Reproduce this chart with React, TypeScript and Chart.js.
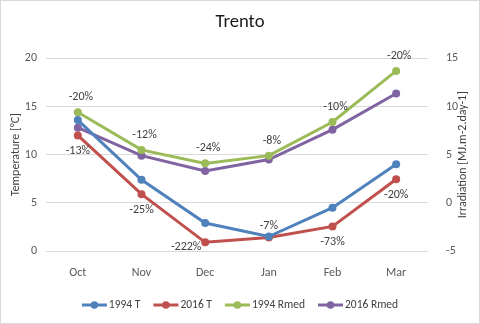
import React, { useEffect, useRef } from "react";
import { Chart, registerables } from "chart.js";

Chart.register(...registerables);

const months = ["Oct", "Nov", "Dec", "Jan", "Feb", "Mar"];
const temp1994 = [13.6, 7.4, 2.9, 1.5, 4.5, 9.0];
const temp2016 = [12.0, 5.9, 0.9, 1.4, 2.55, 7.45];
const rmed1994 = [9.4, 5.5, 4.1, 4.9, 8.4, 13.7];
const rmed2016 = [7.8, 4.9, 3.3, 4.5, 7.6, 11.35];
const rmedChange = ["-20%", "-12%", "-24%", "-8%", "-10%", "-20%"];
const tempChange = ["-13%", "-25%", "-222%", "-7%", "-73%", "-20%"];
const rightTitle = "Irradiation [MJ.m-2.day-1]";

const FONT = "Calibri, Carlito, Lato, sans-serif";
const COLORS = ["#4F81BD", "#C0504D", "#9BBB59", "#8064A2"];

const labelPlugin = {
  id: "pctLabels",
  afterDatasetsDraw(chart: any) {
    const ctx = chart.ctx;
    ctx.save();
    ctx.font = `12px ${FONT}`;
    ctx.fillStyle = "#404040";
    ctx.textAlign = "center";
    ctx.textBaseline = "middle";
    const green = chart.getDatasetMeta(2).data;
    green.forEach((p: any, i: number) => {
      ctx.fillText(rmedChange[i], p.x + 3, p.y - 15);
    });
    const red = chart.getDatasetMeta(1).data;
    red.forEach((p: any, i: number) => {
      let dx = 0;
      let dy = 16;
      if (i === 2) { dx = -19; dy = 5; }
      if (i === 3) { dx = 0; dy = -12; }
      ctx.fillText(tempChange[i], p.x + dx, p.y + dy);
    });
    ctx.restore();

    // right axis title, reading bottom-to-top like the left one
    ctx.save();
    const y1 = chart.scales.y1;
    const ca = chart.chartArea;
    ctx.font = `12px ${FONT}`;
    ctx.fillStyle = "#404040";
    ctx.textAlign = "center";
    ctx.textBaseline = "middle";
    ctx.translate(y1.right - 16, (ca.top + ca.bottom) / 2);
    ctx.rotate(-Math.PI / 2);
    ctx.fillText(rightTitle, 0, 0);
    ctx.restore();

    // legend: line + marker, then text
    ctx.save();
    ctx.font = `11.5px ${FONT}`;
    ctx.textBaseline = "middle";
    ctx.textAlign = "left";
    const lineW = 25;
    const gap = 2;
    const itemGap = 13;
    const ds = chart.data.datasets;
    const widths = ds.map((d: any) => lineW + gap + ctx.measureText(d.label).width);
    const total = widths.reduce((a: number, b: number) => a + b, 0) + itemGap * (ds.length - 1);
    let x = (chart.width - total) / 2;
    const y = chart.height - 18;
    ds.forEach((d: any, i: number) => {
      ctx.strokeStyle = d.borderColor;
      ctx.fillStyle = d.borderColor;
      ctx.lineWidth = 3;
      ctx.beginPath();
      ctx.moveTo(x, y);
      ctx.lineTo(x + lineW, y);
      ctx.stroke();
      ctx.beginPath();
      ctx.arc(x + lineW / 2, y, 3.8, 0, Math.PI * 2);
      ctx.fill();
      ctx.fillStyle = "#404040";
      ctx.fillText(d.label, x + lineW + gap, y);
      x += widths[i] + itemGap;
    });
    ctx.restore();
  },
};

export default function App() {
  const ref = useRef<HTMLCanvasElement | null>(null);
  useEffect(() => {
    document.body.style.margin = "0";
    const mk = (label: string, data: number[], color: string, axis: string) => ({
      label,
      data,
      yAxisID: axis,
      borderColor: color,
      backgroundColor: color,
      borderWidth: 3,
      pointRadius: 4,
      pointHoverRadius: 4,
      pointBorderWidth: 0,
      pointStyle: "circle",
      tension: 0,
    });
    const chart = new Chart(ref.current!, {
      type: "line",
      data: {
        labels: months,
        datasets: [
          mk("1994 T", temp1994, COLORS[0], "y"),
          mk("2016 T", temp2016, COLORS[1], "y"),
          mk("1994 Rmed", rmed1994, COLORS[2], "y1"),
          mk("2016 Rmed", rmed2016, COLORS[3], "y1"),
        ],
      },
      options: {
        animation: false,
        responsive: false,
        maintainAspectRatio: false,
        layout: { padding: { left: 0, right: 0, top: 0, bottom: 36 } },
        plugins: {
          title: {
            display: true,
            text: "Trento",
            color: "#1a1a1a",
            font: { family: FONT, size: 18.67, weight: "normal" },
            padding: { top: 10, bottom: 25 },
          },
          legend: { display: false },
          tooltip: { enabled: false },
        },
        scales: {
          x: {
            offset: true,
            grid: { display: false },
            border: { display: false },
            ticks: { color: "#595959", font: { family: FONT, size: 12 }, padding: 7 },
            afterFit: (s: any) => { s.height = 36; },
          },
          y: {
            position: "left",
            min: 0,
            max: 20,
            ticks: { stepSize: 5, color: "#595959", font: { family: FONT, size: 12 }, padding: 9 },
            grid: { color: "#D9D9D9", drawTicks: false, lineWidth: 1 },
            border: { display: false },
            title: {
              display: true,
              text: "Temperature [°C]",
              color: "#404040",
              font: { family: FONT, size: 12 },
              padding: { top: 8, bottom: 0 },
            },
            afterFit: (s: any) => { s.width = 45; },
          },
          y1: {
            position: "right",
            min: -5,
            max: 15,
            ticks: { stepSize: 5, color: "#595959", font: { family: FONT, size: 12 }, padding: 10 },
            grid: { display: false },
            border: { display: false },
            title: { display: false },
            afterFit: (s: any) => { s.width = 51; },
          },
        },
      },
      plugins: [labelPlugin],
    });
    return () => chart.destroy();
  }, []);
  return (
    <div
      style={{
        position: "fixed",
        left: 0,
        top: 0,
        width: 480,
        height: 324,
        boxSizing: "border-box",
        border: "1px solid #D9D9D9",
        background: "#fff",
      }}
    >
      <canvas ref={ref} width={478} height={322} style={{ display: "block" }} />
    </div>
  );
}
